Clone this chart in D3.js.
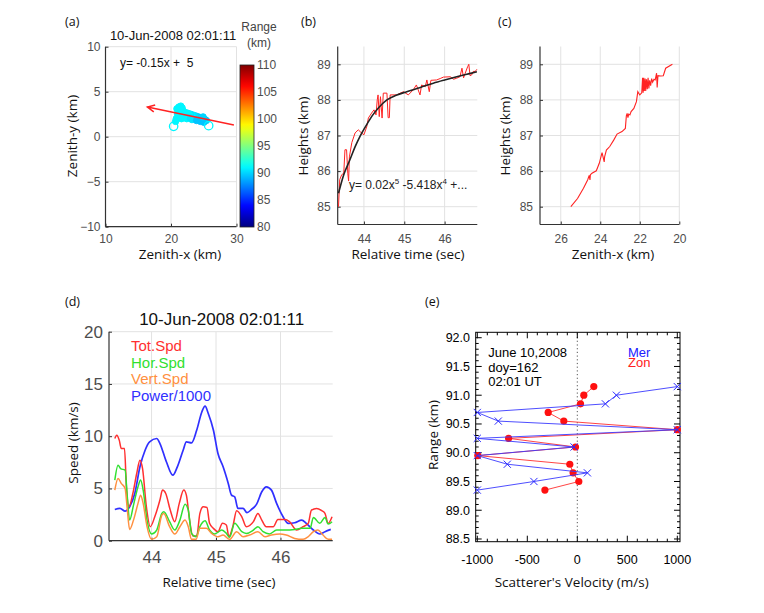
<!DOCTYPE html>
<html><head><meta charset="utf-8">
<script src="https://cdn.jsdelivr.net/npm/d3@7"></script>
<style>
body{margin:0;background:#fff;}
text{font-family:Arial,"Liberation Sans",sans-serif;}
.lab{font-family:"Open Sans",sans-serif;}
</style></head><body>
<svg id="fig" width="764" height="613"></svg>
<script>
// ---------------- DATA ----------------
// Panel (a): scatter of echo positions (Zenith-x, Zenith-y, range)
const aPtX = [25.4,25.2,25.0,24.8,24.6,24.4,24.2,24.0,23.8,23.6,23.4,23.2,23.0,22.8,22.6,22.4,22.2,22.0,21.8,21.7,21.6,21.5,21.4,21.3,21.2,21.1,21.0,20.9,20.8,21.6,22.4,23.2,24.5,25.0,20.7,22.9,23.9,24.9,21.9,21.3];
const aPtY = [1.8,1.9,2.0,1.9,2.1,2.0,2.2,2.1,2.3,2.2,2.4,2.3,2.5,2.4,2.6,2.5,2.7,2.4,2.9,3.2,2.6,3.4,3.0,2.2,3.3,2.8,2.5,3.1,2.0,2.0,2.0,1.9,1.7,1.6,1.7,2.1,1.8,2.2,2.2,2.6];
const aPtRange = [90,89.5,90,89.5,90,90.5,89.5,90.5,90,90.5,90.5,91,90.5,91,91,91,91,91,91,91,91,91,91,91,91,91,91,91,91,91,91,90.5,89.5,89.5,91,90.5,89.5,90,91,91];
const aEndX = [20.4, 25.75];
const aEndY = [1.15, 1.23];
const aArrowX = [29.6, 16.4];
const aArrowY = [1.3, 3.3];
const aXTicks = [10,20,30];
const aYTicks = [-10,-5,0,5,10];
const cbTicks = [80,85,90,95,100,105,110];

// Panel (b): heights vs relative time, raw (red) and polynomial fit (black)
const bTime = [43.37,43.40,43.45,43.50,43.53,43.57,43.60,43.62,43.64,43.70,43.78,43.86,43.94,44.00,44.07,44.11,44.19,44.25,44.30,44.33,44.35,44.38,44.41,44.45,44.48,44.57,44.60,44.63,44.65,44.81,44.98,45.10,45.22,45.30,45.39,45.43,45.52,45.56,45.62,45.66,45.80,45.89,45.97,46.14,46.22,46.30,46.38,46.43,46.47,46.51,46.57,46.60,46.63,46.67,46.71,46.76,46.80];
const bHeight = [85.0,85.76,85.9,85.94,86.6,86.6,85.94,85.72,86.4,86.8,87.07,87.16,87.07,87.02,87.25,87.49,87.63,87.72,87.58,88.0,88.14,87.53,88.09,87.49,88.19,88.19,87.5,87.5,88.14,88.14,88.23,88.14,88.28,88.42,88.14,88.42,88.37,88.56,88.23,88.55,88.56,88.6,88.64,88.65,88.58,88.61,88.65,88.89,88.62,88.75,88.93,89.0,88.68,88.7,88.8,88.8,88.86];
const bFitTime = [43.37,43.50,43.65,43.78,43.90,44.05,44.19,44.38,44.57,44.80,45.06,45.40,45.72,46.00,46.30,46.55,46.80];
const bFitHeight = [85.38,85.9,86.31,86.68,86.97,87.27,87.53,87.8,88.0,88.13,88.23,88.35,88.47,88.56,88.65,88.72,88.79];
const bXTicks = [44,45,46];
const hTicks = [85,86,87,88,89];

// Panel (c): heights vs Zenith-x
const cZenX = [25.49,25.15,24.85,24.64,24.56,24.52,24.5,24.42,24.2,24.05,23.91,23.8,23.78,23.69,23.52,23.32,23.15,22.9,22.73,22.68,22.64,22.6,22.56,22.5,22.44,22.3,22.17,22.1,22.0,21.9,21.86,21.83,21.8,21.77,21.73,21.7,21.66,21.62,21.58,21.54,21.5,21.45,21.4,21.35,21.28,21.22,21.15,21.12,21.08,20.94,20.81,20.69,20.35];
const cHeight = [85.0,85.23,85.52,85.75,85.88,85.75,85.9,85.94,86.01,86.22,86.52,86.26,86.4,86.59,86.69,86.87,87.04,87.11,87.2,87.55,87.62,87.5,87.6,87.58,87.67,87.76,87.95,88.23,88.14,88.2,88.62,88.2,88.62,88.25,88.6,88.25,88.58,88.3,88.62,88.32,88.55,88.4,88.6,88.5,88.58,88.56,88.75,88.35,88.68,88.67,88.68,88.89,89.0];
const cXTicks = [26,24,22,20];

// Panel (d): speeds and power vs relative time
const dTot = [[43.43,9.78],[43.46,10.1],[43.50,9.6],[43.53,8.82],[43.58,8.82],[43.61,5.16],[43.65,3.25],[43.71,4.52],[43.77,6.43],[43.82,7.71],[43.86,6.91],[43.92,3.25],[43.98,1.34],[44.05,2.29],[44.13,3.89],[44.17,4.84],[44.22,4.52],[44.29,2.93],[44.36,1.82],[44.43,3.57],[44.50,4.84],[44.54,4.36],[44.59,1.97],[44.64,0.45],[44.70,0.45],[44.75,2.61],[44.80,3.25],[44.86,3.18],[44.90,1.66],[44.96,1.18],[45.03,0.86],[45.10,1.66],[45.16,1.5],[45.20,0.38],[45.26,1.34],[45.32,2.87],[45.40,2.29],[45.47,1.34],[45.58,1.82],[45.65,2.61],[45.71,1.97],[45.78,1.34],[45.89,1.34],[45.96,2.04],[46.07,2.04],[46.14,1.82],[46.25,1.02],[46.35,1.34],[46.43,1.66],[46.48,2.93],[46.56,3.09],[46.64,2.87],[46.69,2.61],[46.74,1.66],[46.80,2.29]];
const dHor = [[43.43,5.8],[43.48,7.23],[43.52,6.9],[43.59,6.75],[43.62,4.52],[43.66,1.97],[43.72,3.41],[43.79,5.16],[43.83,5.8],[43.87,4.84],[43.93,1.97],[44.00,0.64],[44.08,1.02],[44.16,2.61],[44.19,2.77],[44.28,1.82],[44.36,1.02],[44.44,1.97],[44.52,3.5],[44.57,2.93],[44.62,0.7],[44.69,0.38],[44.75,1.34],[44.83,1.91],[44.90,1.02],[44.98,0.64],[45.09,1.02],[45.16,0.7],[45.21,0.32],[45.29,1.66],[45.40,0.86],[45.47,0.7],[45.58,1.02],[45.65,1.34],[45.73,0.86],[45.83,0.64],[45.94,1.02],[46.09,1.02],[46.22,1.08],[46.33,1.18],[46.46,1.18],[46.51,2.23],[46.61,1.66],[46.69,2.23],[46.74,1.59],[46.80,1.82]];
const dVert = [[43.43,4.84],[43.48,5.96],[43.53,5.48],[43.59,5.0],[43.62,3.25],[43.66,1.08],[43.72,1.97],[43.79,3.57],[43.83,4.36],[43.87,3.57],[43.93,1.34],[44.00,0.13],[44.08,0.38],[44.16,2.45],[44.19,2.61],[44.28,1.34],[44.36,0.64],[44.44,1.34],[44.52,1.97],[44.57,1.34],[44.62,0.13],[44.69,0.13],[44.75,1.18],[44.85,1.18],[44.93,0.7],[45.03,0.38],[45.11,0.54],[45.21,0.13],[45.32,0.86],[45.42,0.38],[45.52,0.54],[45.65,0.86],[45.76,0.38],[45.86,0.54],[45.99,0.64],[46.09,0.54],[46.22,0.22],[46.35,0.13],[46.43,0.38],[46.51,0.86],[46.58,1.02],[46.66,0.54],[46.74,0.13],[46.80,0.13]];
const dPow = [[43.43,2.99],[43.51,3.09],[43.59,2.83],[43.66,3.25],[43.74,4.52],[43.82,7.07],[43.90,8.66],[43.97,9.46],[44.08,9.78],[44.13,9.3],[44.23,7.55],[44.33,6.27],[44.40,7.07],[44.49,8.66],[44.54,9.46],[44.62,9.36],[44.70,10.57],[44.78,12.32],[44.83,12.87],[44.88,12.17],[44.96,10.57],[45.03,8.34],[45.11,7.07],[45.19,5.48],[45.24,4.36],[45.29,4.2],[45.34,3.09],[45.42,3.09],[45.48,2.68],[45.55,2.99],[45.63,3.5],[45.71,4.68],[45.78,5.16],[45.86,4.84],[45.94,3.57],[46.04,2.29],[46.12,1.66],[46.22,1.72],[46.33,1.97],[46.40,1.66],[46.51,1.02],[46.61,0.64],[46.69,0.86],[46.78,1.08]];
const dSeriesNames = ["Tot.Spd","Hor.Spd","Vert.Spd","Power/1000"];
const dXTicks = [44,45,46];
const dYTicks = [0,5,10,15,20];

// Panel (e): scatterer velocity vs range
const eRange = [91.15,91.0,90.85,90.7,90.55,90.4,90.25,90.1,89.95,89.8,89.65,89.5,89.35];
const eMer = [1000,391,281,-1000,-790,1000,-1000,-32,-1000,-700,101,-434,-1000];
const eZon = [165,65,32,-291,-135,1000,-687,-18,-995,-75,-42,15,-324];
const eXTicks = [-1000,-500,0,500,1000];
const eYTicks = [88.5,89.0,89.5,90.0,90.5,91.0,91.5,92.0];

// ---------------- DRAW ----------------
const svg = d3.select("#fig");
svg.append("rect").attr("width",764).attr("height",613).attr("fill","#fff");

const TICK_COL = "#4d4d4d", GRID_COL = "#e2e2e2", AXIS_COL = "#333";
const LAB_FS = 13.5;

function jet(v){
  const t=(v-80)/30;
  const c=k=>Math.round(255*Math.max(0,Math.min(1,1.5-Math.abs(4*t-k))));
  return `rgb(${c(3)},${c(2)},${c(1)})`;
}

function matAxes(x, y, xt, yt, o){
  const g = svg.append("g");
  const [yb, ytop] = y.range();
  const [xl, xr] = [Math.min(...x.range()), Math.max(...x.range())];
  g.selectAll(null).data(xt).enter().append("line")
    .attr("x1",d=>x(d)).attr("x2",d=>x(d)).attr("y1",yb).attr("y2",ytop)
    .attr("stroke",GRID_COL).attr("stroke-width",1);
  g.selectAll(null).data(yt).enter().append("line")
    .attr("x1",xl).attr("x2",xr).attr("y1",d=>y(d)).attr("y2",d=>y(d))
    .attr("stroke",GRID_COL).attr("stroke-width",1);
  const ax = g.append("g").attr("transform",`translate(0,${yb})`)
    .call(d3.axisBottom(x).tickValues(xt).tickSizeInner(-3).tickSizeOuter(0).tickPadding(o.xpad).tickFormat(d3.format("d")));
  const ay = g.append("g").attr("transform",`translate(${xl},0)`)
    .call(d3.axisLeft(y).tickValues(yt).tickSizeInner(-3).tickSizeOuter(0).tickPadding(o.ypad).tickFormat(d3.format("d")));
  [ax,ay].forEach(a=>{
    a.select(".domain").remove();
    a.selectAll(".tick line").attr("stroke",AXIS_COL);
    a.selectAll("text").attr("fill",TICK_COL).style("font-size",o.fs+"px").style("font-family","Arial,'Liberation Sans',sans-serif");
  });
  g.append("line").attr("x1",xl).attr("x2",xr).attr("y1",yb).attr("y2",yb).attr("stroke",AXIS_COL).attr("stroke-width",1.2);
  g.append("line").attr("x1",xl).attr("x2",xl).attr("y1",yb).attr("y2",ytop).attr("stroke",AXIS_COL).attr("stroke-width",1.2);
  return g;
}

function txt(x,y,s,o={}){
  const t = svg.append("text").attr("x",x).attr("y",y).text(s)
    .style("font-size",(o.fs||12)+"px").attr("fill",o.fill||"#111")
    .attr("text-anchor",o.anchor||"start");
  if(o.cls) t.attr("class",o.cls);
  if(o.rot) t.attr("transform",`rotate(-90,${x},${y})`);
  return t;
}

// ---- Panel (a)
{
  const x = d3.scaleLinear([10,30],[105.5,236.5]);
  const y = d3.scaleLinear([-10,10],[226.7,46.7]);
  matAxes(x,y,aXTicks,aYTicks,{xpad:7.5,ypad:5,fs:12});
  const pts = aPtX.map((v,i)=>({x:v,y:aPtY[i],r:aPtRange[i]}));
  svg.append("g").selectAll("circle").data(pts).enter().append("circle")
    .attr("cx",d=>x(d.x)).attr("cy",d=>y(d.y)).attr("r",3.2)
    .attr("fill",d=>jet(d.r)).attr("stroke",d=>jet(d.r)).attr("stroke-width",1);
  svg.append("g").selectAll("circle").data(aEndX).enter().append("circle")
    .attr("cx",d=>x(d)).attr("cy",(d,i)=>y(aEndY[i])).attr("r",4.2)
    .attr("fill","none").attr("stroke",jet(91)).attr("stroke-width",1.3);
  // arrow
  const x0=x(aArrowX[0]), y0=y(aArrowY[0]), x1=x(aArrowX[1]), y1=y(aArrowY[1]);
  const ang = Math.atan2(y1-y0,x1-x0), hl=8;
  svg.append("path")
    .attr("d",`M${x0},${y0}L${x1},${y1}M${x1-hl*Math.cos(ang-0.45)},${y1-hl*Math.sin(ang-0.45)}L${x1},${y1}L${x1-hl*Math.cos(ang+0.45)},${y1-hl*Math.sin(ang+0.45)}`)
    .attr("stroke","#f22").attr("stroke-width",1.5).attr("fill","none");
  txt(120,67,"y= -0.15x +  5",{fs:12}).attr("xml:space","preserve").style("white-space","pre");
  txt(173,40,"10-Jun-2008 02:01:11",{fs:13,anchor:"middle"});
  // colorbar
  const cb = d3.scaleLinear([80,110],[227,65]);
  const defs = svg.append("defs");
  const grad = defs.append("linearGradient").attr("id","jetg").attr("x1",0).attr("y1",1).attr("x2",0).attr("y2",0);
  d3.range(0,31,1).forEach(v=>grad.append("stop").attr("offset",(v/30)).attr("stop-color",jet(80+v)));
  svg.append("rect").attr("x",240).attr("y",cb(110)).attr("width",14).attr("height",cb(80)-cb(110))
    .attr("fill","url(#jetg)").attr("stroke","#222").attr("stroke-width",0.8);
  svg.append("g").selectAll("text").data(cbTicks).enter().append("text")
    .attr("x",257).attr("y",d=>cb(d)+4).text(d=>d).style("font-size","12px").attr("fill",TICK_COL);
  txt(259,31,"Range",{fs:12,anchor:"middle",fill:"#444"});
  txt(259,47,"(km)",{fs:12,anchor:"middle",fill:"#444"});
  txt(65,26,"(a)",{fs:12.5,cls:"lab"});
  txt(180,259,"Zenith-x (km)",{fs:LAB_FS,anchor:"middle",cls:"lab"});
  txt(77,136,"Zenith-y (km)",{fs:LAB_FS,anchor:"middle",cls:"lab",rot:true});
}

// ---- Panel (b)
{
  const x = d3.scaleLinear([43.35,46.81],[337.7,477.3]);
  const y = d3.scaleLinear([84.5,89.5],[224.5,46.5]);
  matAxes(x,y,bXTicks,hTicks,{xpad:9.5,ypad:7,fs:12});
  const line = d3.line().x(d=>x(d[0])).y(d=>y(d[1]));
  svg.append("path").datum(bTime.map((t,i)=>[t,bHeight[i]])).attr("d",line)
    .attr("fill","none").attr("stroke","#f22").attr("stroke-width",1);
  svg.append("path").datum(bFitTime.map((t,i)=>[t,bFitHeight[i]])).attr("d",line.curve(d3.curveMonotoneX))
    .attr("fill","none").attr("stroke","#222").attr("stroke-width",1.6);
  const eq = svg.append("text").attr("x",349).attr("y",189).style("font-size","12px").attr("fill","#222");
  eq.append("tspan").text("y= 0.02x");
  eq.append("tspan").attr("dy",-5).style("font-size","8px").text("5");
  eq.append("tspan").attr("dy",5).text(" -5.418x");
  eq.append("tspan").attr("dy",-5).style("font-size","8px").text("4");
  eq.append("tspan").attr("dy",5).text(" +...");
  txt(301,26,"(b)",{fs:12.5,cls:"lab"});
  txt(408,259,"Relative time (sec)",{fs:LAB_FS,anchor:"middle",cls:"lab"});
  txt(308,136,"Heights (km)",{fs:LAB_FS,anchor:"middle",cls:"lab",rot:true});
}

// ---- Panel (c)
{
  const x = d3.scaleLinear([27.05,20],[540,679.3]);
  const y = d3.scaleLinear([84.5,89.5],[224.5,46.5]);
  matAxes(x,y,cXTicks,hTicks,{xpad:9.5,ypad:7,fs:12});
  const line = d3.line().x(d=>x(d[0])).y(d=>y(d[1]));
  svg.append("path").datum(cZenX.map((v,i)=>[v,cHeight[i]])).attr("d",line)
    .attr("fill","none").attr("stroke","#f22").attr("stroke-width",1.1);
  txt(498,26,"(c)",{fs:12.5,cls:"lab"});
  txt(613,259,"Zenith-x (km)",{fs:LAB_FS,anchor:"middle",cls:"lab"});
  txt(510,136,"Heights (km)",{fs:LAB_FS,anchor:"middle",cls:"lab",rot:true});
}

// ---- Panel (d)
{
  const x = d3.scaleLinear([43.34,46.81],[109,332.7]);
  const y = d3.scaleLinear([0,20],[540.7,331.7]);
  matAxes(x,y,dXTicks,dYTicks,{xpad:10,ypad:6,fs:17});
  const line = d3.line().x(d=>x(d[0])).y(d=>y(d[1])).curve(d3.curveMonotoneX);
  const series = [dTot,dHor,dVert,dPow];
  const cols = ["#ff3030","#30e030","#ff9040","#3030ff"];
  const order = [3,0,1,2];
  order.forEach(i=>{
    svg.append("path").datum(series[i]).attr("d",line).attr("fill","none")
      .attr("stroke",cols[i]).attr("stroke-width",i===3?1.7:1.5);
  });
  svg.append("g").selectAll("text").data(dSeriesNames).enter().append("text")
    .attr("x",131).attr("y",(d,i)=>351+i*16.6).text(d=>d)
    .style("font-size","15px").attr("fill",(d,i)=>cols[i]);
  txt(221.7,325,"10-Jun-2008 02:01:11",{fs:17,anchor:"middle"});
  txt(65,306,"(d)",{fs:12.5,cls:"lab"});
  txt(219,587,"Relative time (sec)",{fs:LAB_FS,anchor:"middle",cls:"lab"});
  txt(78,443,"Speed (km/s)",{fs:LAB_FS,anchor:"middle",cls:"lab",rot:true});
}

// ---- Panel (e)
{
  const x = d3.scaleLinear([-1016,1027],[475.7,680]);
  const y = d3.scaleLinear([88.453,92.094],[541.7,332.3]);
  const g = svg.append("g");
  const [xl,xr] = x.range(), [yb,yt] = y.range();
  g.append("line").attr("x1",x(0)).attr("x2",x(0)).attr("y1",yb).attr("y2",yt)
    .attr("stroke","#555").attr("stroke-dasharray","1.2,2.5").attr("stroke-width",1);
  const xMinor = d3.range(-1000,1001,100), yMinor = d3.range(88.5,92.01,0.1);
  xMinor.forEach(v=>{
    const L = eXTicks.includes(v)?6:3;
    g.append("line").attr("x1",x(v)).attr("x2",x(v)).attr("y1",yb).attr("y2",yb-L).attr("stroke","#000");
    g.append("line").attr("x1",x(v)).attr("x2",x(v)).attr("y1",yt).attr("y2",yt+L).attr("stroke","#000");
  });
  yMinor.forEach(v=>{
    const major = Math.abs(v*2-Math.round(v*2))<1e-6;
    const L = major?6:3;
    g.append("line").attr("x1",xl).attr("x2",xl+L).attr("y1",y(v)).attr("y2",y(v)).attr("stroke","#000");
    g.append("line").attr("x1",xr).attr("x2",xr-L).attr("y1",y(v)).attr("y2",y(v)).attr("stroke","#000");
  });
  g.append("rect").attr("x",xl).attr("y",yt).attr("width",xr-xl).attr("height",yb-yt)
    .attr("fill","none").attr("stroke","#000").attr("stroke-width",1);
  g.selectAll(".xl").data(eXTicks).enter().append("text")
    .attr("x",d=>x(d)).attr("y",564).attr("text-anchor","middle").text(d=>d)
    .style("font-size","12.5px").attr("fill","#000");
  g.selectAll(".yl").data(eYTicks).enter().append("text")
    .attr("x",470).attr("y",d=>y(d)+4.5).attr("text-anchor","end").text(d=>d.toFixed(1))
    .style("font-size","12.5px").attr("fill","#000");
  const line = d3.line().x(d=>x(d[0])).y(d=>y(d[1]));
  const zon = eZon.map((v,i)=>[v,eRange[i]]);
  const mer = eMer.map((v,i)=>[v,eRange[i]]);
  g.append("path").datum(zon).attr("d",line).attr("fill","none").attr("stroke","#ff3030").attr("stroke-width",0.9);
  g.selectAll(".zc").data(zon).enter().append("circle")
    .attr("cx",d=>x(d[0])).attr("cy",d=>y(d[1])).attr("r",3.6).attr("fill","#ff1010");
  g.append("path").datum(mer).attr("d",line).attr("fill","none").attr("stroke","#3a3aff").attr("stroke-width",0.9);
  const s=3.6;
  g.selectAll(".mx").data(mer).enter().append("path")
    .attr("d",d=>{const cx=x(d[0]),cy=y(d[1]);return `M${cx-s},${cy-s}L${cx+s},${cy+s}M${cx-s},${cy+s}L${cx+s},${cy-s}`;})
    .attr("stroke","#2a2aff").attr("stroke-width",1).attr("fill","none");
  txt(488.3,356.7,"June 10,2008",{fs:13,fill:"#000"});
  txt(488.3,371.7,"doy=162",{fs:13,fill:"#000"});
  txt(488.3,385.7,"02:01 UT",{fs:13,fill:"#000"});
  txt(628,356.5,"Mer",{fs:13,fill:"#2020ff"});
  txt(628,366.5,"Zon",{fs:13,fill:"#ff2020"});
  txt(425,306,"(e)",{fs:12.5,cls:"lab"});
  txt(571.7,587,"Scatterer's Velocity (m/s)",{fs:LAB_FS,anchor:"middle",cls:"lab"});
  txt(438,435,"Range (km)",{fs:LAB_FS,anchor:"middle",cls:"lab",rot:true});
}
</script></body></html>
